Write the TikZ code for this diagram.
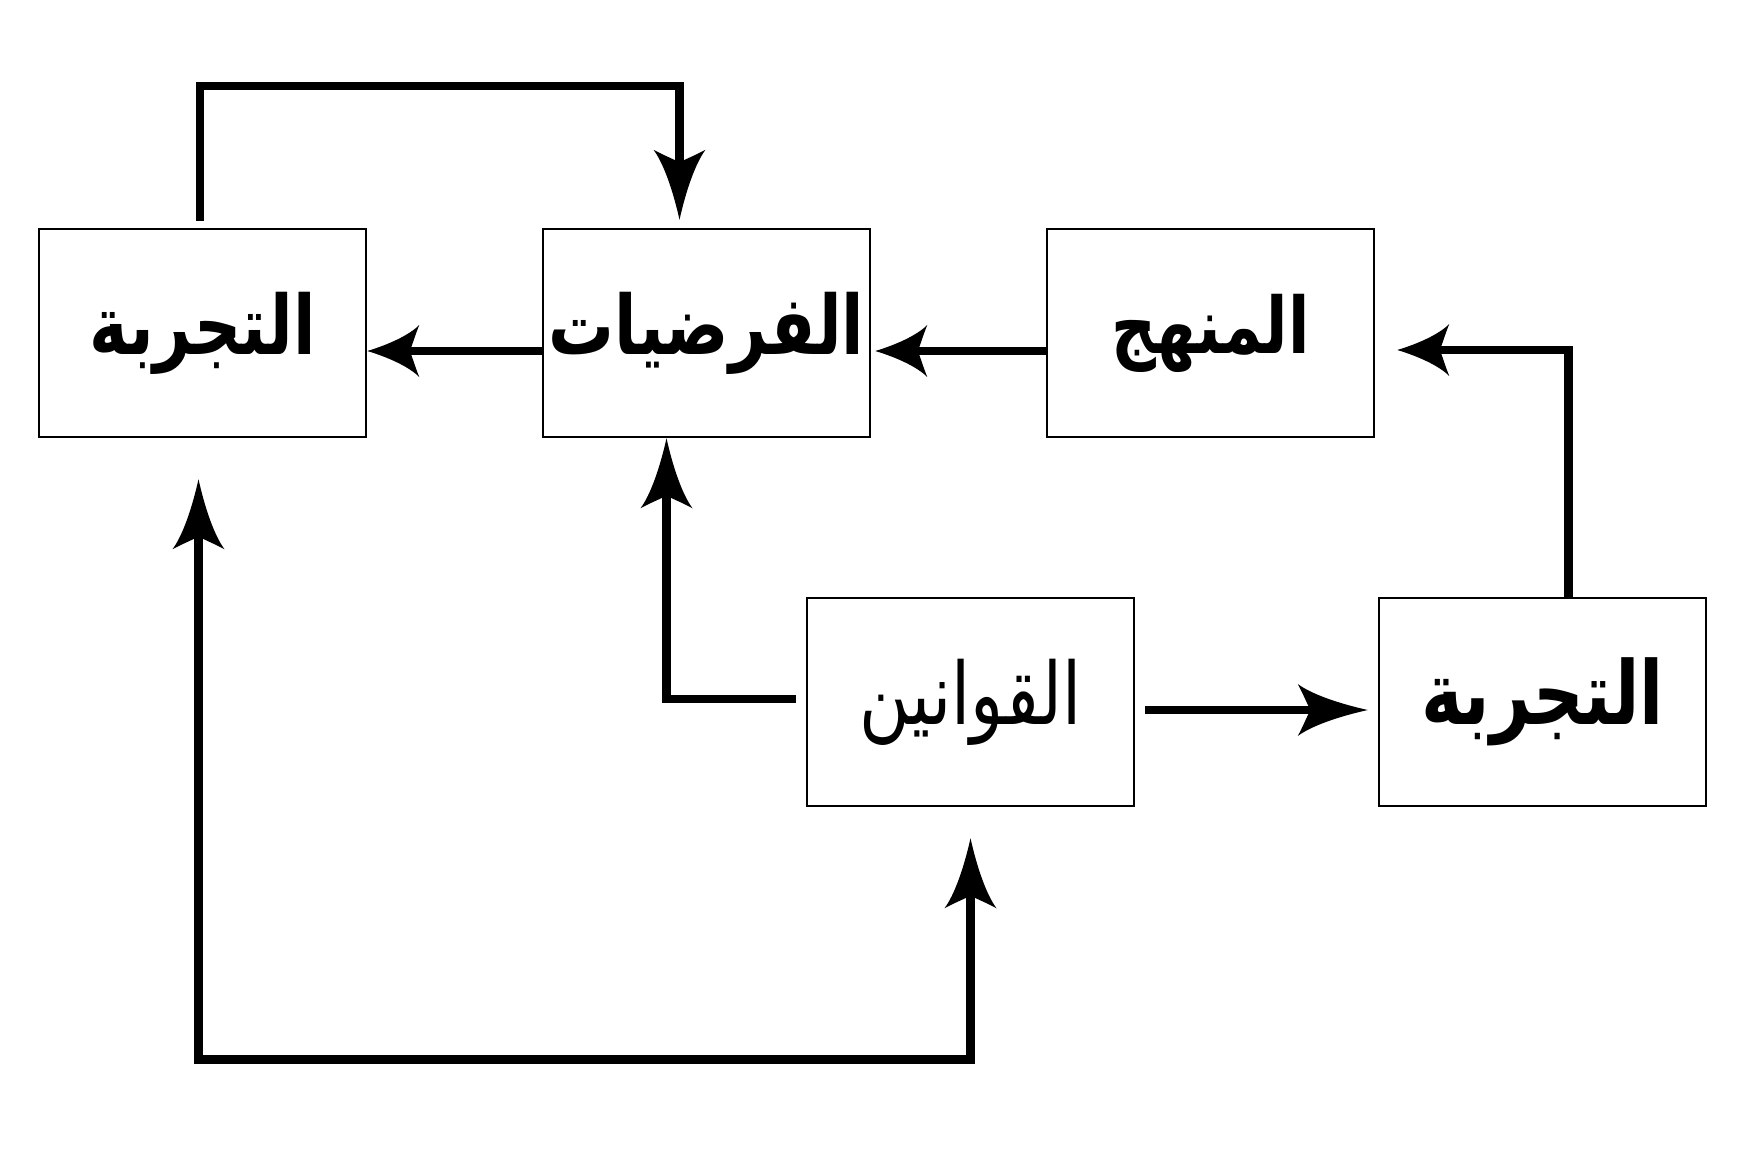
\documentclass[tikz,border=0pt]{standalone}
\usepackage{fontspec}
\usetikzlibrary{arrows.meta}
\TeXXeTstate=1
\newfontfamily\arabicfont[Script=Arabic, FakeStretch=0.8]{DejaVu Sans}

\pgfdeclarearrow{
  name = Swept,
  parameters = {\the\pgfarrowlength,\the\pgfarrowwidth},
  setup code = {
    \pgfarrowssettipend{0pt}
    \pgfarrowssetbackend{-\pgfarrowlength}
    \pgfarrowssetlineend{-.7\pgfarrowlength}
    \pgfarrowsupperhullpoint{0pt}{0pt}
    \pgfarrowsupperhullpoint{-\pgfarrowlength}{.5\pgfarrowwidth}
    \pgfarrowssavethe\pgfarrowlength
    \pgfarrowssavethe\pgfarrowwidth
  },
  drawing code = {
    \pgfpathmoveto{\pgfqpoint{0pt}{0pt}}
    \pgfpathcurveto{\pgfqpoint{-.4\pgfarrowlength}{.12\pgfarrowwidth}}{\pgfqpoint{-.8\pgfarrowlength}{.3\pgfarrowwidth}}{\pgfqpoint{-\pgfarrowlength}{.5\pgfarrowwidth}}
    \pgfpathcurveto{\pgfqpoint{-.93\pgfarrowlength}{.33\pgfarrowwidth}}{\pgfqpoint{-.86\pgfarrowlength}{.1\pgfarrowwidth}}{\pgfqpoint{-.82\pgfarrowlength}{0pt}}
    \pgfpathcurveto{\pgfqpoint{-.86\pgfarrowlength}{-.1\pgfarrowwidth}}{\pgfqpoint{-.93\pgfarrowlength}{-.33\pgfarrowwidth}}{\pgfqpoint{-\pgfarrowlength}{-.5\pgfarrowwidth}}
    \pgfpathcurveto{\pgfqpoint{-.8\pgfarrowlength}{-.3\pgfarrowwidth}}{\pgfqpoint{-.4\pgfarrowlength}{-.12\pgfarrowwidth}}{\pgfqpoint{0pt}{0pt}}
    \pgfpathclose
    \pgfusepathqfill
  },
  defaults = {length = 60pt, width = 50pt}
}

\tikzset{
  box/.style={draw, line width=2.5pt, minimum width=327pt, minimum height=208pt, inner sep=0pt},
  conn/.style={line width=8.5pt},
  longtip/.style={-{Swept[length=70pt,width=52pt]}},
  shorttip/.style={-{Swept[length=52pt,width=52pt]}},
  bothtips/.style={{Swept[length=70pt,width=52pt]}-{Swept[length=70pt,width=52pt]}},
  lblbold/.style={font=\arabicfont\bfseries\fontsize{82}{96}\selectfont},
  lblmid/.style={font=\arabicfont\bfseries\fontsize{78}{92}\selectfont},
  lblbig/.style={font=\arabicfont\bfseries\fontsize{88}{100}\selectfont},
  lblreg/.style={font=\arabicfont\fontsize{86}{100}\selectfont}
}

\begin{document}
\begin{tikzpicture}[x=1pt,y=-1pt]
\path[fill=white] (0,0) rectangle (1746,1154);

\node[box, lblbold] (A) at (202.5,333) {\beginR التجربة\endR};
\node[box, lblbold] (B) at (706.5,333) {\beginR الفرضيات\endR};
\node[box, lblmid]  (C) at (1210.5,333) {\beginR المنهج\endR};
\node[box, lblreg]  (D) at (970.5,702) {\beginR القوانين\endR};
\node[box, lblbig]  (E) at (1542.5,702) {\beginR التجربة\endR};

% A -> B over the top
\draw[conn, longtip, shorten <=7pt, shorten >=8pt]
  ([xshift=-2.5pt]A.north) -- ++(0,-142) -| ([xshift=-27pt]B.north);
% B -> A
\draw[conn, shorttip] ([yshift=-18pt]B.west) -- ([yshift=-18pt]A.east);
% C -> B
\draw[conn, shorttip, shorten >=4pt] ([yshift=-18pt]C.west) -- ([yshift=-18pt]B.east);
% E -> C
\draw[conn, shorttip, shorten >=22pt] ([xshift=26pt]E.north) |- ([yshift=-17pt]C.east);
% D -> B
\draw[conn, longtip, shorten <=10pt] ([yshift=3pt]D.west) -| ([xshift=-40pt]B.south);
% D -> E
\draw[conn, longtip, shorten <=10pt, shorten >=10pt] ([yshift=-8pt]D.east) -- ([yshift=-8pt]E.west);
% bottom loop A <-> D
\draw[conn, bothtips, shorten <=41pt, shorten >=31pt]
  ([xshift=-4pt]A.south) -- ++(0,621) -| (D.south);
\end{tikzpicture}
\end{document}
